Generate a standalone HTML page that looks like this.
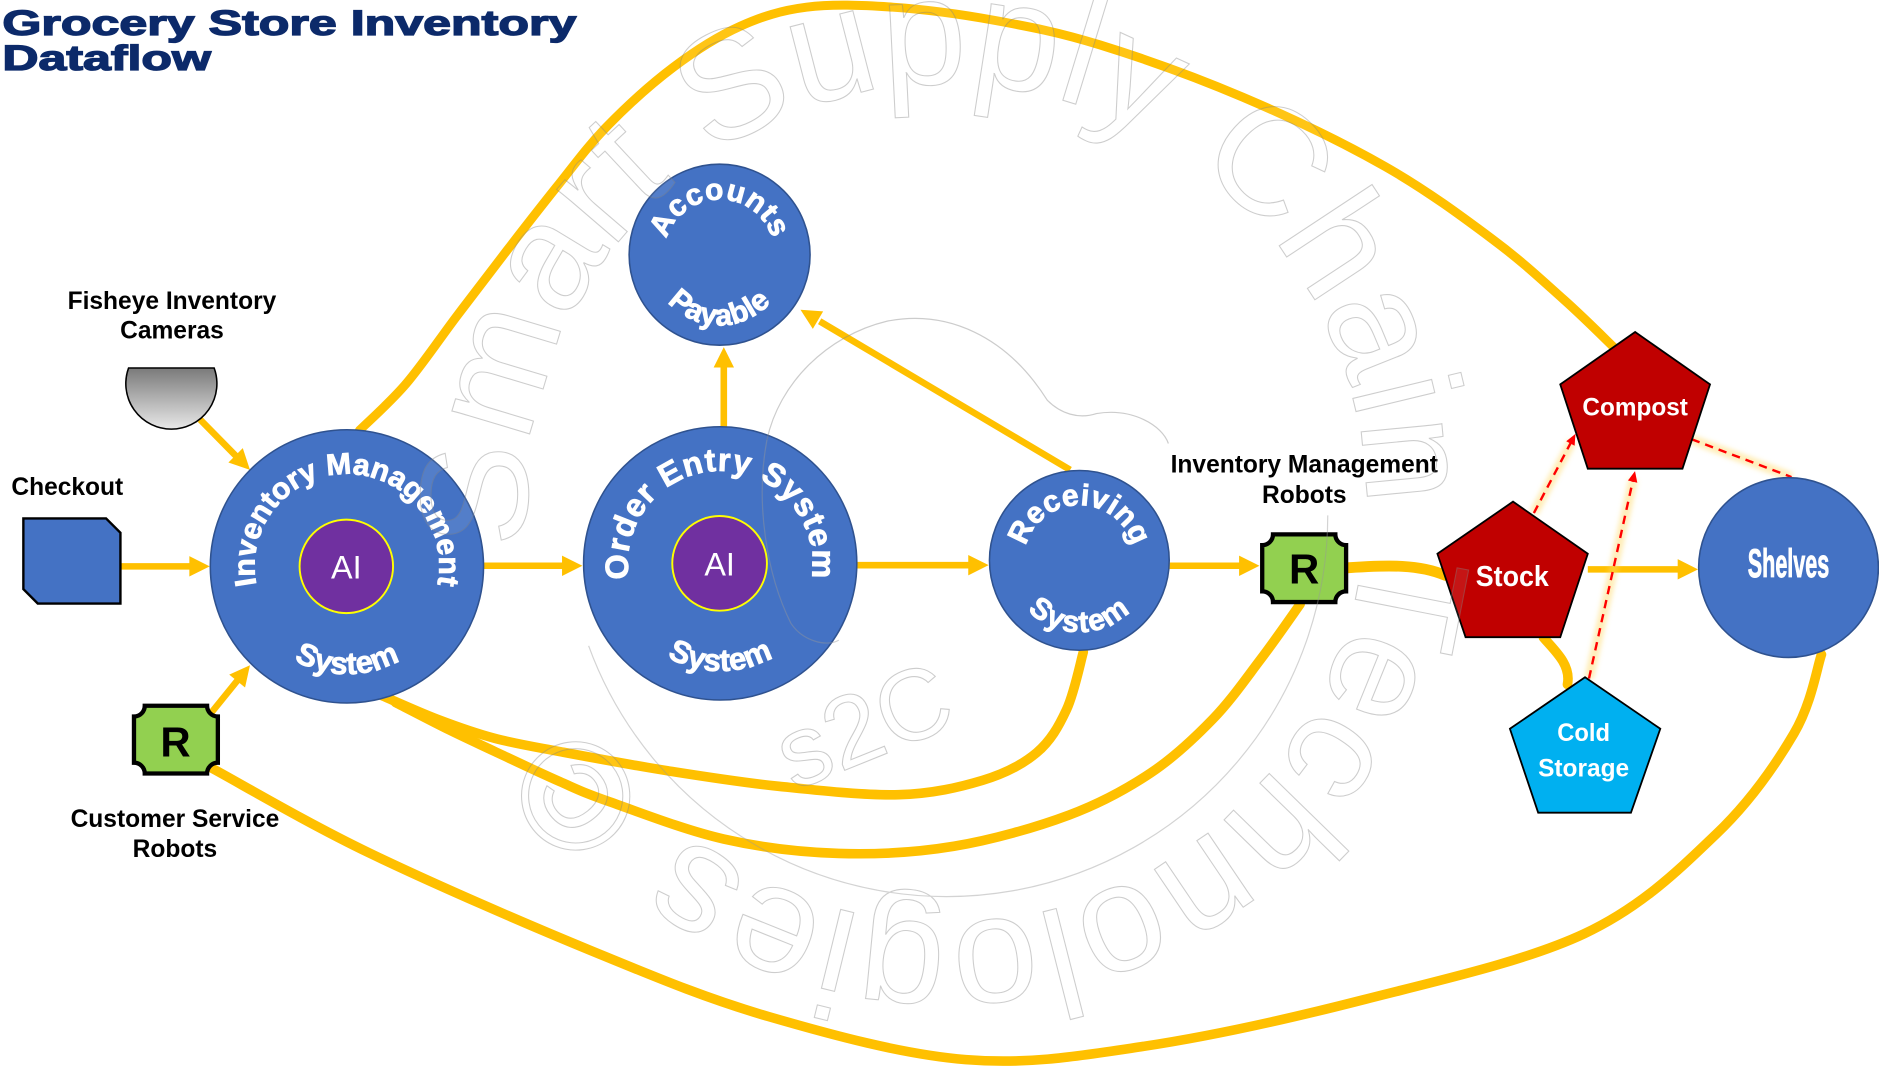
<!DOCTYPE html>
<html>
<head>
<meta charset="utf-8">
<style>
html,body{margin:0;padding:0;background:#fff;}
svg{display:block;}
</style>
</head>
<body>
<svg xmlns="http://www.w3.org/2000/svg" width="1879" height="1068" viewBox="0 0 1568 891" preserveAspectRatio="none">
<defs>
  <linearGradient id="camg" x1="0" y1="0" x2="0" y2="1">
    <stop offset="0" stop-color="#7a7a7a"/>
    <stop offset="1" stop-color="#e8e8e8"/>
  </linearGradient>
  <filter id="blur2" x="-20%" y="-20%" width="140%" height="140%">
    <feGaussianBlur stdDeviation="2"/>
  </filter>
  <path id="imsTop" d="M235.05,526.95 A77,77 0 1,1 343.95,526.95"/>
  <path id="imsBot" d="M211.56,517.5 A90,90 0 0,0 367.44,517.5"/>
  <path id="oesTop" d="M546.6,524.4 A77,77 0 1,1 655.4,524.4"/>
  <path id="oesBot" d="M523.1,515 A90,90 0 0,0 678.9,515"/>
  <path id="apTop" d="M568,245 A46,46 0 1,1 633,245"/>
  <path id="apBot" d="M546,233.3 A58,58 0 0,0 655,233.3"/>
  <path id="recTop" d="M868.2,500 A46,46 0 1,1 933.2,500"/>
  <path id="recBot" d="M844.3,488 A60,60 0 0,0 957.1,488"/>
  <path id="wmCircle" d="M441.9,456.6 A350,350 0 1,1 1138.1,383.4 A350,350 0 1,1 441.9,456.6"/>
</defs>

<!-- Title -->
<g font-family="'Liberation Sans', Arial, sans-serif" font-weight="bold" fill="#0c2a6a" stroke="#0c2a6a" stroke-width="1.1">
  <text x="2" y="29" font-size="29" textLength="479" lengthAdjust="spacingAndGlyphs">Grocery Store Inventory</text>
  <text x="2" y="58.4" font-size="29" textLength="174" lengthAdjust="spacingAndGlyphs">Dataflow</text>
</g>

<!-- Big yellow curves -->
<g fill="none" stroke="#ffc000" stroke-linecap="round">
  <path stroke-width="7.5" d="M300,359 C306.5,352.5 325.5,335.8 339,320 C352.5,304.2 367,282.5 381,264 C395,245.5 409.1,227 423,209 C436.9,191 450.7,173.2 464.5,156 C478.3,138.8 489.75,122.7 506,106 C522.25,89.3 543.4,70 562,56 C580.6,42 599,30.3 617.5,22 C636,13.7 651.75,8.7 673,6 C694.25,3.3 718.8,4.2 745,6 C771.2,7.8 801.2,11.75 830,17 C858.8,22.25 883.5,26.8 918,37.5 C952.5,48.2 997.3,64.1 1037,81 C1076.7,97.9 1121.2,119.2 1156,139 C1190.8,158.8 1221.2,181.5 1246,200 C1270.8,218.5 1288.2,235 1305,250 C1321.8,265 1340,283.3 1347,290"/>
  <path stroke-width="8" d="M318,580 C325.8,583.3 349.2,594 365,600 C380.8,606 396,611.5 413,616 C430,620.5 443,622.5 467,627 C491,631.5 526.5,638.2 557,643 C587.5,647.8 617.8,652.7 650,656 C682.2,659.3 721.7,663.8 750,663 C778.3,662.2 800.8,656.8 820,651 C839.2,645.2 853.3,637.8 865,628 C876.7,618.2 883.5,606 890,592 C896.5,578 901.7,552 904,544"/>
  <path stroke-width="8" d="M330,586 C337.5,589.8 361.2,602.2 375,609 C388.8,615.8 397.7,619.8 413,627 C428.3,634.2 451,645 467,652 C483,659 486.2,661 509,669 C531.8,677 572.2,692.8 604,700 C635.8,707.2 668,711 700,712 C732,713 764,711.3 796,706 C828,700.7 864.7,690.2 892,680 C919.3,669.8 940,658.3 960,645 C980,631.7 996.7,615.8 1012,600 C1027.3,584.2 1039.8,566 1052,550 C1064.2,534 1079.5,511.7 1085,504"/>
  <path stroke-width="8" d="M177,641 C199,652.8 256.3,686.7 309,712 C361.7,737.3 437.7,770.3 493,793 C548.3,815.7 588.8,832.8 641,848 C693.2,863.2 753.8,879.8 806,884 C858.2,888.2 898.7,881.3 954,873 C1009.3,864.7 1076.7,849.7 1138,834 C1199.3,818.3 1273,802 1322,779 C1371,756 1402.8,723.8 1432,696 C1461.2,668.2 1482.3,637 1497,612 C1511.7,587 1516.2,557 1520,546"/>
  <path stroke-width="9" d="M1120,474 C1160,471 1185,471 1206,480"/>
  <path stroke-width="8" d="M1288,532 C1300,545 1311,556 1308,571"/>
</g>

<!-- Straight yellow arrows -->
<g stroke="#ffc000" stroke-width="5.5" fill="none">
  <line x1="167" y1="350" x2="198" y2="381.5"/>
  <line x1="101" y1="472.5" x2="160" y2="472.5"/>
  <line x1="176" y1="595" x2="199.5" y2="566"/>
  <line x1="403" y1="472" x2="471" y2="472"/>
  <line x1="714" y1="471.5" x2="810" y2="471.5"/>
  <line x1="604" y1="356" x2="604" y2="304"/>
  <line x1="893" y1="392" x2="684" y2="268"/>
  <line x1="976" y1="472" x2="1036" y2="472"/>
  <line x1="1325" y1="475" x2="1402" y2="475"/>
</g>
<g fill="#ffc000">
  <polygon points="208.6,392 190.6,385.9 202.6,373.9"/>
  <polygon points="175,472.5 158,464 158,481"/>
  <polygon points="208.6,555 204.5,573.6 191.3,562.8"/>
  <polygon points="486,472 469,463.5 469,480.5"/>
  <polygon points="825,471.5 808,463 808,480"/>
  <polygon points="604,289.6 595.5,306.6 612.5,306.6"/>
  <polygon points="668,258.4 686.9,259.8 678.3,274.4"/>
  <polygon points="1051,472 1034,463.5 1034,480.5"/>
  <polygon points="1417,475 1400,466.5 1400,483.5"/>
</g>

<!-- Red dashed glow + lines -->
<g fill="none" stroke="#ffd966" stroke-width="8" stroke-opacity="0.45" filter="url(#blur2)">
  <line x1="1280" y1="428" x2="1312" y2="368"/>
  <line x1="1326" y1="566" x2="1363" y2="400"/>
  <line x1="1411.7" y1="366.5" x2="1495" y2="398"/>
</g>
<g fill="none" stroke="#ff0000" stroke-width="2" stroke-dasharray="7,5">
  <line x1="1280" y1="428" x2="1311" y2="369"/>
  <line x1="1326" y1="566" x2="1362.6" y2="401"/>
  <line x1="1411.7" y1="366.5" x2="1495" y2="398"/>
</g>
<g fill="#ff0000">
  <polygon points="1314.7,362 1314,371.9 1307,368.1"/>
  <polygon points="1364.4,393 1366.3,402.7 1358.5,400.9"/>
</g>

<!-- Camera -->
<path d="M107.3,307 A38,38 0 1,0 178.7,307 Z" fill="url(#camg)" stroke="#000" stroke-width="1.3"/>
<!-- Checkout -->
<path d="M19.5,432.5 L88.5,432.5 L100.5,444.5 L100.5,503.5 L31.5,503.5 L19.5,491.5 Z" fill="#4472c4" stroke="#000" stroke-width="2"/>

<!-- Circles -->
<g fill="#4472c4" stroke="#2f528f" stroke-width="1.3">
  <circle cx="289.5" cy="472.5" r="114"/>
  <circle cx="601" cy="470" r="114"/>
  <circle cx="600.5" cy="212.5" r="75.5"/>
  <circle cx="900.7" cy="467.5" r="75"/>
  <circle cx="1492.5" cy="473.5" r="75"/>
</g>
<g fill="#7030a0" stroke="#ffff00" stroke-width="1.6">
  <circle cx="289" cy="472.5" r="39"/>
  <circle cx="600.5" cy="470" r="39.5"/>
</g>
<g font-family="'Liberation Sans', Arial, sans-serif" fill="#fff" font-size="27" text-anchor="middle">
  <text x="289" y="482.5">AI</text>
  <text x="600.5" y="480">AI</text>
</g>

<!-- Curved circle text -->
<g font-family="'Liberation Sans', Arial, sans-serif" font-weight="bold" fill="#fff" stroke="#fff" stroke-width="0.7" text-anchor="middle">
  <text font-size="25"><textPath href="#imsTop" startOffset="50%">Inventory Management</textPath></text>
  <text font-size="26"><textPath href="#imsBot" startOffset="50%">System</textPath></text>
  <text font-size="27" letter-spacing="0.8"><textPath href="#oesTop" startOffset="50%">Order Entry System</textPath></text>
  <text font-size="26"><textPath href="#oesBot" startOffset="50%">System</textPath></text>
  <text font-size="25" letter-spacing="0.5"><textPath href="#apTop" startOffset="50%">Accounts</textPath></text>
  <text font-size="25" letter-spacing="0.5"><textPath href="#apBot" startOffset="50%">Payable</textPath></text>
  <text font-size="25" letter-spacing="0.3"><textPath href="#recTop" startOffset="50%">Receiving</textPath></text>
  <text font-size="25" letter-spacing="1.2"><textPath href="#recBot" startOffset="50%">System</textPath></text>
</g>

<!-- Robot boxes -->
<g fill="#92d050" stroke="#000" stroke-width="3.6">
  <path d="M120.8,588.8 L172.8,588.8 A9,9 0 0,0 181.8,597.8 L181.8,636.3 A9,9 0 0,0 172.8,645.3 L120.8,645.3 A9,9 0 0,0 111.8,636.3 L111.8,597.8 A9,9 0 0,0 120.8,588.8 Z"/>
  <path d="M1062.3,445.8 L1114.3,445.8 A9,9 0 0,0 1123.3,454.8 L1123.3,493.3 A9,9 0 0,0 1114.3,502.3 L1062.3,502.3 A9,9 0 0,0 1053.3,493.3 L1053.3,454.8 A9,9 0 0,0 1062.3,445.8 Z"/>
</g>
<g font-family="'Liberation Sans', Arial, sans-serif" font-weight="bold" fill="#000" font-size="35" text-anchor="middle">
  <text x="146.5" y="631">R</text>
  <text x="1088.3" y="487">R</text>
</g>

<!-- Pentagons -->
<polygon points="1262.6,418.5 1325,462 1302,531.6 1223,531.6 1199.5,462" fill="#c00000" stroke="#000" stroke-width="1.5"/>
<polygon points="1364.5,277 1427,320.7 1404,391 1325,391 1302,320.7" fill="#c00000" stroke="#000" stroke-width="1.5"/>
<polygon points="1322.7,565 1385.5,608 1361,678 1283.6,678 1260,608" fill="#00b0f0" stroke="#000" stroke-width="1.5"/>

<g font-family="'Liberation Sans', Arial, sans-serif" font-weight="bold" fill="#fff" text-anchor="middle">
  <text x="1262" y="488.7" font-size="24" textLength="61" lengthAdjust="spacingAndGlyphs">Stock</text>
  <text x="1364.5" y="346.5" font-size="20.5" textLength="88" lengthAdjust="spacingAndGlyphs">Compost</text>
  <text x="1321.5" y="618" font-size="21" textLength="44" lengthAdjust="spacingAndGlyphs">Cold</text>
  <text x="1321.5" y="648" font-size="21" textLength="76" lengthAdjust="spacingAndGlyphs">Storage</text>
  <text x="1492.5" y="481.5" font-size="33" textLength="68" lengthAdjust="spacingAndGlyphs" stroke="#fff" stroke-width="0.8">Shelves</text>
</g>

<!-- Labels -->
<g font-family="'Liberation Sans', Arial, sans-serif" font-weight="bold" fill="#000" font-size="20.5">
  <text x="143.5" y="258" text-anchor="middle">Fisheye Inventory</text>
  <text x="143.5" y="282.4" text-anchor="middle">Cameras</text>
  <text x="9.5" y="413">Checkout</text>
  <text x="146" y="690" text-anchor="middle">Customer Service</text>
  <text x="146" y="715" text-anchor="middle">Robots</text>
  <text x="1088.4" y="394" text-anchor="middle">Inventory Management</text>
  <text x="1088.4" y="419.5" text-anchor="middle">Robots</text>
</g>

<!-- Watermark -->
<g opacity="0.42">
  <text font-family="'Liberation Sans', Arial, sans-serif" font-size="128" fill="#fff" fill-opacity="0.2" stroke="#8a8a8a" stroke-width="0.9"><textPath href="#wmCircle">Smart Supply Chain Technologies ©</textPath></text>
  <path d="M491.2,538.8 A318,318 0 0,0 1108,430" fill="none" stroke="#999" stroke-width="1"/>
  <path d="M640,367 C650,320 690,280 740,268 C790,258 840,280 874,334 C885,345 900,350 915,345 C945,340 970,355 975,370" fill="none" stroke="#888" stroke-width="1"/>
  <path d="M640,367 C630,420 640,480 660,520 C670,535 690,540 700,534" fill="none" stroke="#999" stroke-width="1"/>
  <text x="662" y="660" font-family="'Liberation Sans', Arial, sans-serif" font-size="84" fill="#fff" fill-opacity="0.3" stroke="#888" stroke-width="0.9" transform="rotate(-22 662 660)">s2C</text>
</g>
</svg>
</body>
</html>
